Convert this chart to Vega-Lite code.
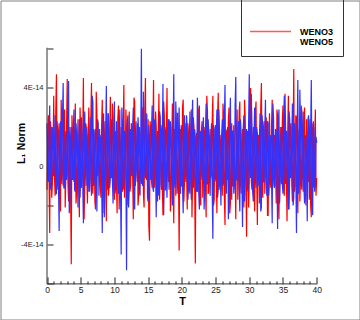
{
"$schema": "https://vega.github.io/schema/vega-lite/v6.json",
"width": 359, "height": 319, "padding": 0.5, "autosize": {"type": "none"},
"background": "white",
"config": {"view": {"stroke": "#808080", "strokeWidth": 1}},
"resolve": {"axis": {"x": "independent"}},
"layer": [
{
"data": {"values": [
{"t":0,"WENO3":-1.2e-14,"WENO5":2.2e-14},{"t":0.2,"WENO3":2.6e-14,"WENO5":-0.8e-14},{"t":0.4,"WENO3":-3.4e-14,"WENO5":3.1e-14},{"t":0.6,"WENO3":1.9e-14,"WENO5":-1.2e-14},{"t":0.8,"WENO3":-0.9e-14,"WENO5":1.9e-14},
{"t":1.0,"WENO3":3.6e-14,"WENO5":-0.5e-14},{"t":1.2,"WENO3":-1.5e-14,"WENO5":2.6e-14},{"t":1.4,"WENO3":4.7e-14,"WENO5":-1.4e-14},{"t":1.6,"WENO3":-0.6e-14,"WENO5":1.5e-14},{"t":1.8,"WENO3":2.2e-14,"WENO5":-3.3e-14},
{"t":2.0,"WENO3":-2.3e-14,"WENO5":2.3e-14},{"t":2.2,"WENO3":1.7e-14,"WENO5":-0.9e-14},{"t":2.4,"WENO3":-1.0e-14,"WENO5":4.25e-14},{"t":2.6,"WENO3":2.9e-14,"WENO5":-1.1e-14},{"t":2.8,"WENO3":-0.4e-14,"WENO5":1.8e-14},
{"t":3.0,"WENO3":4.45e-14,"WENO5":-0.4e-14},{"t":3.2,"WENO3":-1.8e-14,"WENO5":4.35e-14},{"t":3.4,"WENO3":2.0e-14,"WENO5":-1.6e-14},{"t":3.6,"WENO3":-5.0e-14,"WENO5":2.0e-14},{"t":3.8,"WENO3":1.5e-14,"WENO5":-0.7e-14},
{"t":4.0,"WENO3":-0.8e-14,"WENO5":2.9e-14},{"t":4.2,"WENO3":3.2e-14,"WENO5":-1.3e-14},{"t":4.4,"WENO3":-1.3e-14,"WENO5":1.6e-14},{"t":4.6,"WENO3":2.4e-14,"WENO5":-2.1e-14},{"t":4.8,"WENO3":-2.6e-14,"WENO5":2.4e-14},
{"t":5.0,"WENO3":1.8e-14,"WENO5":-0.6e-14},{"t":5.2,"WENO3":-0.5e-14,"WENO5":1.7e-14},{"t":5.4,"WENO3":4.5e-14,"WENO5":-2.9e-14},{"t":5.6,"WENO3":-1.1e-14,"WENO5":2.8e-14},{"t":5.8,"WENO3":2.1e-14,"WENO5":-1.0e-14},
{"t":6.0,"WENO3":-1.9e-14,"WENO5":1.4e-14},{"t":6.2,"WENO3":3.0e-14,"WENO5":-0.3e-14},{"t":6.4,"WENO3":-0.7e-14,"WENO5":2.5e-14},{"t":6.6,"WENO3":4.25e-14,"WENO5":-1.5e-14},{"t":6.8,"WENO3":-1.4e-14,"WENO5":3.3e-14},
{"t":7.0,"WENO3":1.6e-14,"WENO5":-0.8e-14},{"t":7.2,"WENO3":-2.2e-14,"WENO5":1.9e-14},{"t":7.4,"WENO3":2.7e-14,"WENO5":-2.3e-14},{"t":7.6,"WENO3":-0.3e-14,"WENO5":2.2e-14},{"t":7.8,"WENO3":1.9e-14,"WENO5":-0.5e-14},
{"t":8.0,"WENO3":-1.6e-14,"WENO5":1.6e-14},{"t":8.2,"WENO3":3.4e-14,"WENO5":-3.4e-14},{"t":8.4,"WENO3":-0.9e-14,"WENO5":2.7e-14},{"t":8.6,"WENO3":2.3e-14,"WENO5":-1.0e-14},{"t":8.8,"WENO3":-2.8e-14,"WENO5":4.1e-14},
{"t":9.0,"WENO3":1.4e-14,"WENO5":-1.2e-14},{"t":9.2,"WENO3":-1.2e-14,"WENO5":1.8e-14},{"t":9.4,"WENO3":3.55e-14,"WENO5":-0.6e-14},{"t":9.6,"WENO3":-0.6e-14,"WENO5":2.4e-14},{"t":9.8,"WENO3":2.5e-14,"WENO5":-1.9e-14},
{"t":10.0,"WENO3":-1.7e-14,"WENO5":3.3e-14},{"t":10.2,"WENO3":1.8e-14,"WENO5":-0.9e-14},{"t":10.4,"WENO3":-2.4e-14,"WENO5":1.5e-14},{"t":10.6,"WENO3":3.1e-14,"WENO5":-1.4e-14},{"t":10.8,"WENO3":-0.8e-14,"WENO5":2.9e-14},
{"t":11.0,"WENO3":2.0e-14,"WENO5":-4.5e-14},{"t":11.2,"WENO3":-1.3e-14,"WENO5":2.1e-14},{"t":11.4,"WENO3":4.15e-14,"WENO5":-0.7e-14},{"t":11.6,"WENO3":-0.5e-14,"WENO5":1.7e-14},{"t":11.8,"WENO3":1.6e-14,"WENO5":-5.3e-14},
{"t":12.0,"WENO3":-2.0e-14,"WENO5":2.6e-14},{"t":12.2,"WENO3":2.8e-14,"WENO5":-1.1e-14},{"t":12.4,"WENO3":-1.0e-14,"WENO5":1.9e-14},{"t":12.6,"WENO3":1.9e-14,"WENO5":-0.4e-14},{"t":12.8,"WENO3":-2.7e-14,"WENO5":3.0e-14},
{"t":13.0,"WENO3":3.3e-14,"WENO5":-2.2e-14},{"t":13.2,"WENO3":-0.4e-14,"WENO5":2.3e-14},{"t":13.4,"WENO3":2.2e-14,"WENO5":-0.8e-14},{"t":13.6,"WENO3":-1.5e-14,"WENO5":1.6e-14},{"t":13.8,"WENO3":1.7e-14,"WENO5":-1.5e-14},
{"t":14.0,"WENO3":-0.9e-14,"WENO5":6.0e-14},{"t":14.2,"WENO3":3.0e-14,"WENO5":-1.0e-14},{"t":14.4,"WENO3":-2.1e-14,"WENO5":2.0e-14},{"t":14.6,"WENO3":4.5e-14,"WENO5":-0.6e-14},{"t":14.8,"WENO3":-0.7e-14,"WENO5":2.7e-14},
{"t":15.0,"WENO3":2.4e-14,"WENO5":-1.8e-14},{"t":15.2,"WENO3":-3.8e-14,"WENO5":1.5e-14},{"t":15.4,"WENO3":1.5e-14,"WENO5":-0.5e-14},{"t":15.6,"WENO3":-1.1e-14,"WENO5":3.1e-14},{"t":15.8,"WENO3":4.4e-14,"WENO5":-1.3e-14},
{"t":16.0,"WENO3":-0.6e-14,"WENO5":2.2e-14},{"t":16.2,"WENO3":2.0e-14,"WENO5":-2.6e-14},{"t":16.4,"WENO3":-1.8e-14,"WENO5":1.8e-14},{"t":16.6,"WENO3":3.7e-14,"WENO5":-0.9e-14},{"t":16.8,"WENO3":-0.3e-14,"WENO5":2.5e-14},
{"t":17.0,"WENO3":1.8e-14,"WENO5":-1.2e-14},{"t":17.2,"WENO3":-2.5e-14,"WENO5":4.2e-14},{"t":17.4,"WENO3":2.6e-14,"WENO5":-0.7e-14},{"t":17.6,"WENO3":-1.2e-14,"WENO5":1.7e-14},{"t":17.8,"WENO3":4.0e-14,"WENO5":-1.6e-14},
{"t":18.0,"WENO3":-0.8e-14,"WENO5":2.4e-14},{"t":18.2,"WENO3":2.1e-14,"WENO5":-0.4e-14},{"t":18.4,"WENO3":-1.6e-14,"WENO5":1.9e-14},{"t":18.6,"WENO3":3.2e-14,"WENO5":-2.0e-14},{"t":18.8,"WENO3":-2.9e-14,"WENO5":4.7e-14},
{"t":19.0,"WENO3":1.4e-14,"WENO5":-1.1e-14},{"t":19.2,"WENO3":-0.5e-14,"WENO5":2.1e-14},{"t":19.4,"WENO3":2.7e-14,"WENO5":-0.6e-14},{"t":19.6,"WENO3":-4.3e-14,"WENO5":3.0e-14},{"t":19.8,"WENO3":1.9e-14,"WENO5":-1.4e-14},
{"t":20.0,"WENO3":-1.0e-14,"WENO5":1.6e-14},{"t":20.2,"WENO3":3.4e-14,"WENO5":-2.4e-14},{"t":20.4,"WENO3":-0.7e-14,"WENO5":2.6e-14},{"t":20.6,"WENO3":2.2e-14,"WENO5":-0.8e-14},{"t":20.8,"WENO3":-2.2e-14,"WENO5":1.9e-14},
{"t":21.0,"WENO3":1.6e-14,"WENO5":-1.0e-14},{"t":21.2,"WENO3":-1.4e-14,"WENO5":2.8e-14},{"t":21.4,"WENO3":2.9e-14,"WENO5":-1.7e-14},{"t":21.6,"WENO3":-0.6e-14,"WENO5":3.4e-14},{"t":21.8,"WENO3":2.0e-14,"WENO5":-0.5e-14},
{"t":22.0,"WENO3":-4.96e-14,"WENO5":1.5e-14},{"t":22.2,"WENO3":1.7e-14,"WENO5":-1.3e-14},{"t":22.4,"WENO3":-1.1e-14,"WENO5":2.3e-14},{"t":22.6,"WENO3":3.1e-14,"WENO5":-2.2e-14},{"t":22.8,"WENO3":-2.0e-14,"WENO5":1.8e-14},
{"t":23.0,"WENO3":2.3e-14,"WENO5":-0.7e-14},{"t":23.2,"WENO3":-0.8e-14,"WENO5":2.5e-14},{"t":23.4,"WENO3":1.5e-14,"WENO5":-1.1e-14},{"t":23.6,"WENO3":-2.6e-14,"WENO5":3.2e-14},{"t":23.8,"WENO3":2.8e-14,"WENO5":-0.9e-14},
{"t":24.0,"WENO3":-1.3e-14,"WENO5":1.7e-14},{"t":24.2,"WENO3":1.9e-14,"WENO5":-1.5e-14},{"t":24.4,"WENO3":-0.4e-14,"WENO5":2.2e-14},{"t":24.6,"WENO3":3.6e-14,"WENO5":-3.7e-14},{"t":24.8,"WENO3":-1.7e-14,"WENO5":1.9e-14},
{"t":25.0,"WENO3":2.1e-14,"WENO5":-0.6e-14},{"t":25.2,"WENO3":-2.4e-14,"WENO5":2.9e-14},{"t":25.4,"WENO3":3.75e-14,"WENO5":-1.2e-14},{"t":25.6,"WENO3":-0.9e-14,"WENO5":1.6e-14},{"t":25.8,"WENO3":1.6e-14,"WENO5":-2.0e-14},
{"t":26.0,"WENO3":-1.5e-14,"WENO5":2.4e-14},{"t":26.2,"WENO3":2.5e-14,"WENO5":-0.8e-14},{"t":26.4,"WENO3":-3.0e-14,"WENO5":4.15e-14},{"t":26.6,"WENO3":1.8e-14,"WENO5":-1.4e-14},{"t":26.8,"WENO3":-0.6e-14,"WENO5":2.0e-14},
{"t":27.0,"WENO3":3.0e-14,"WENO5":-0.5e-14},{"t":27.2,"WENO3":-1.9e-14,"WENO5":3.5e-14},{"t":27.4,"WENO3":2.2e-14,"WENO5":-1.7e-14},{"t":27.6,"WENO3":-1.0e-14,"WENO5":1.8e-14},{"t":27.8,"WENO3":1.4e-14,"WENO5":-1.0e-14},
{"t":28.0,"WENO3":-2.7e-14,"WENO5":4.56e-14},{"t":28.2,"WENO3":2.9e-14,"WENO5":-0.7e-14},{"t":28.4,"WENO3":-0.5e-14,"WENO5":2.3e-14},{"t":28.6,"WENO3":3.3e-14,"WENO5":-2.3e-14},{"t":28.8,"WENO3":-1.4e-14,"WENO5":1.6e-14},
{"t":29.0,"WENO3":1.9e-14,"WENO5":-3.1e-14},{"t":29.2,"WENO3":-2.1e-14,"WENO5":2.6e-14},{"t":29.4,"WENO3":2.4e-14,"WENO5":-0.9e-14},{"t":29.6,"WENO3":-3.6e-14,"WENO5":1.9e-14},{"t":29.8,"WENO3":1.7e-14,"WENO5":-1.3e-14},
{"t":30.0,"WENO3":-0.8e-14,"WENO5":4.7e-14},{"t":30.2,"WENO3":4.0e-14,"WENO5":-0.6e-14},{"t":30.4,"WENO3":-1.2e-14,"WENO5":2.1e-14},{"t":30.6,"WENO3":2.0e-14,"WENO5":-1.8e-14},{"t":30.8,"WENO3":-2.3e-14,"WENO5":3.0e-14},
{"t":31.0,"WENO3":3.3e-14,"WENO5":-1.1e-14},{"t":31.2,"WENO3":-3.0e-14,"WENO5":1.7e-14},{"t":31.4,"WENO3":1.6e-14,"WENO5":-0.4e-14},{"t":31.6,"WENO3":-0.7e-14,"WENO5":2.7e-14},{"t":31.8,"WENO3":4.25e-14,"WENO5":-2.1e-14},
{"t":32.0,"WENO3":-1.6e-14,"WENO5":1.9e-14},{"t":32.2,"WENO3":2.3e-14,"WENO5":-0.8e-14},{"t":32.4,"WENO3":-0.4e-14,"WENO5":3.4e-14},{"t":32.6,"WENO3":1.8e-14,"WENO5":-1.5e-14},{"t":32.8,"WENO3":-2.5e-14,"WENO5":2.2e-14},
{"t":33.0,"WENO3":2.7e-14,"WENO5":-0.7e-14},{"t":33.2,"WENO3":-1.1e-14,"WENO5":1.6e-14},{"t":33.4,"WENO3":3.4e-14,"WENO5":-2.9e-14},{"t":33.6,"WENO3":-0.6e-14,"WENO5":2.5e-14},{"t":33.8,"WENO3":1.5e-14,"WENO5":-1.0e-14},
{"t":34.0,"WENO3":-1.9e-14,"WENO5":1.8e-14},{"t":34.2,"WENO3":2.6e-14,"WENO5":-3.2e-14},{"t":34.4,"WENO3":-2.7e-14,"WENO5":2.9e-14},{"t":34.6,"WENO3":2.0e-14,"WENO5":-0.6e-14},{"t":34.8,"WENO3":-0.9e-14,"WENO5":2.0e-14},
{"t":35.0,"WENO3":3.1e-14,"WENO5":-1.4e-14},{"t":35.2,"WENO3":-1.5e-14,"WENO5":3.6e-14},{"t":35.4,"WENO3":1.7e-14,"WENO5":-0.9e-14},{"t":35.6,"WENO3":-2.8e-14,"WENO5":1.7e-14},{"t":35.8,"WENO3":3.6e-14,"WENO5":-2.2e-14},
{"t":36.0,"WENO3":-0.5e-14,"WENO5":2.4e-14},{"t":36.2,"WENO3":2.2e-14,"WENO5":-0.5e-14},{"t":36.4,"WENO3":-1.8e-14,"WENO5":3.2e-14},{"t":36.6,"WENO3":4.96e-14,"WENO5":-1.6e-14},{"t":36.8,"WENO3":-1.0e-14,"WENO5":1.9e-14},
{"t":37.0,"WENO3":2.5e-14,"WENO5":-3.4e-14},{"t":37.2,"WENO3":-2.4e-14,"WENO5":4.4e-14},{"t":37.4,"WENO3":1.9e-14,"WENO5":-0.8e-14},{"t":37.6,"WENO3":-0.7e-14,"WENO5":2.1e-14},{"t":37.8,"WENO3":2.8e-14,"WENO5":-1.2e-14},
{"t":38.0,"WENO3":-1.3e-14,"WENO5":2.8e-14},{"t":38.2,"WENO3":3.0e-14,"WENO5":-1.9e-14},{"t":38.4,"WENO3":-2.0e-14,"WENO5":1.6e-14},{"t":38.6,"WENO3":1.6e-14,"WENO5":-2.8e-14},{"t":38.8,"WENO3":-0.8e-14,"WENO5":2.6e-14},
{"t":39.0,"WENO3":2.4e-14,"WENO5":-0.7e-14},{"t":39.2,"WENO3":-2.6e-14,"WENO5":4.4e-14},{"t":39.4,"WENO3":1.8e-14,"WENO5":-2.5e-14},{"t":39.6,"WENO3":-1.1e-14,"WENO5":1.8e-14},{"t":39.8,"WENO3":2.9e-14,"WENO5":-1.0e-14},
{"t":40.0,"WENO3":-0.6e-14,"WENO5":1.2e-14},
{"t":0.1,"WENO3":1.5e-14,"WENO5":-0.6e-14},{"t":0.3,"WENO3":-0.7e-14,"WENO5":1.4e-14},{"t":0.5,"WENO3":2.3e-14,"WENO5":-1.0e-14},{"t":0.7,"WENO3":-1.6e-14,"WENO5":2.0e-14},{"t":0.9,"WENO3":1.1e-14,"WENO5":-0.3e-14},
{"t":1.1,"WENO3":-0.4e-14,"WENO5":1.1e-14},{"t":1.3,"WENO3":2.8e-14,"WENO5":-1.4e-14},{"t":1.5,"WENO3":-1.2e-14,"WENO5":2.3e-14},{"t":1.7,"WENO3":1.7e-14,"WENO5":-0.8e-14},{"t":1.9,"WENO3":-0.9e-14,"WENO5":1.6e-14},
{"t":2.1,"WENO3":3.4e-14,"WENO5":-0.2e-14},{"t":2.3,"WENO3":-0.3e-14,"WENO5":2.6e-14},{"t":2.5,"WENO3":1.4e-14,"WENO5":-1.1e-14},{"t":2.7,"WENO3":-2.1e-14,"WENO5":1.3e-14},{"t":2.9,"WENO3":2.0e-14,"WENO5":-0.7e-14},
{"t":3.1,"WENO3":-0.8e-14,"WENO5":2.1e-14},{"t":3.3,"WENO3":1.2e-14,"WENO5":-2.4e-14},{"t":3.5,"WENO3":-1.4e-14,"WENO5":1.5e-14},{"t":3.7,"WENO3":2.6e-14,"WENO5":-0.4e-14},{"t":3.9,"WENO3":-0.5e-14,"WENO5":1.9e-14},
{"t":4.1,"WENO3":1.8e-14,"WENO5":-1.2e-14},{"t":4.3,"WENO3":-1.9e-14,"WENO5":2.2e-14},{"t":4.5,"WENO3":1.0e-14,"WENO5":-0.5e-14},{"t":4.7,"WENO3":-0.6e-14,"WENO5":1.2e-14},{"t":4.9,"WENO3":3.0e-14,"WENO5":-1.6e-14},
{"t":5.1,"WENO3":-1.1e-14,"WENO5":2.5e-14},{"t":5.3,"WENO3":1.6e-14,"WENO5":-0.9e-14},{"t":5.5,"WENO3":-2.7e-14,"WENO5":1.7e-14},{"t":5.7,"WENO3":2.2e-14,"WENO5":-0.3e-14},{"t":5.9,"WENO3":-0.4e-14,"WENO5":2.0e-14},
{"t":6.1,"WENO3":1.3e-14,"WENO5":-1.3e-14},{"t":6.3,"WENO3":-1.3e-14,"WENO5":1.4e-14},{"t":6.5,"WENO3":2.5e-14,"WENO5":-0.6e-14},{"t":6.7,"WENO3":-0.7e-14,"WENO5":3.6e-14},{"t":6.9,"WENO3":1.9e-14,"WENO5":-1.0e-14},
{"t":7.1,"WENO3":-1.8e-14,"WENO5":1.8e-14},{"t":7.3,"WENO3":3.8e-14,"WENO5":-0.2e-14},{"t":7.5,"WENO3":-0.5e-14,"WENO5":2.4e-14},{"t":7.7,"WENO3":1.5e-14,"WENO5":-1.5e-14},{"t":7.9,"WENO3":-1.0e-14,"WENO5":1.3e-14},
{"t":8.1,"WENO3":2.1e-14,"WENO5":-0.8e-14},{"t":8.3,"WENO3":-2.4e-14,"WENO5":2.1e-14},{"t":8.5,"WENO3":1.2e-14,"WENO5":-2.6e-14},{"t":8.7,"WENO3":-0.6e-14,"WENO5":1.6e-14},{"t":8.9,"WENO3":2.7e-14,"WENO5":-0.4e-14},
{"t":9.1,"WENO3":-1.5e-14,"WENO5":2.7e-14},{"t":9.3,"WENO3":1.7e-14,"WENO5":-1.1e-14},{"t":9.5,"WENO3":-0.3e-14,"WENO5":1.2e-14},{"t":9.7,"WENO3":3.2e-14,"WENO5":-0.7e-14},{"t":9.9,"WENO3":-1.2e-14,"WENO5":1.9e-14},
{"t":10.1,"WENO3":1.4e-14,"WENO5":-1.4e-14},{"t":10.3,"WENO3":-0.8e-14,"WENO5":2.3e-14},{"t":10.5,"WENO3":2.4e-14,"WENO5":-0.3e-14},{"t":10.7,"WENO3":-2.2e-14,"WENO5":1.5e-14},{"t":10.9,"WENO3":1.1e-14,"WENO5":-0.9e-14},
{"t":11.1,"WENO3":-0.5e-14,"WENO5":3.0e-14},{"t":11.3,"WENO3":1.9e-14,"WENO5":-1.2e-14},{"t":11.5,"WENO3":-1.6e-14,"WENO5":1.8e-14},{"t":11.7,"WENO3":2.9e-14,"WENO5":-0.6e-14},{"t":11.9,"WENO3":-0.9e-14,"WENO5":2.2e-14},
{"t":12.1,"WENO3":1.6e-14,"WENO5":-2.1e-14},{"t":12.3,"WENO3":-1.3e-14,"WENO5":1.4e-14},{"t":12.5,"WENO3":2.2e-14,"WENO5":-0.5e-14},{"t":12.7,"WENO3":-0.4e-14,"WENO5":2.0e-14},{"t":12.9,"WENO3":3.5e-14,"WENO5":-1.0e-14},
{"t":13.1,"WENO3":-1.0e-14,"WENO5":1.7e-14},{"t":13.3,"WENO3":1.3e-14,"WENO5":-0.2e-14},{"t":13.5,"WENO3":-2.0e-14,"WENO5":2.5e-14},{"t":13.7,"WENO3":2.0e-14,"WENO5":-1.3e-14},{"t":13.9,"WENO3":-0.7e-14,"WENO5":1.3e-14},
{"t":14.1,"WENO3":1.8e-14,"WENO5":-0.8e-14},{"t":14.3,"WENO3":-1.4e-14,"WENO5":3.8e-14},{"t":14.5,"WENO3":2.6e-14,"WENO5":-0.4e-14},{"t":14.7,"WENO3":-0.6e-14,"WENO5":1.6e-14},{"t":14.9,"WENO3":1.2e-14,"WENO5":-1.6e-14},
{"t":15.1,"WENO3":-3.0e-14,"WENO5":2.1e-14},{"t":15.3,"WENO3":2.3e-14,"WENO5":-0.7e-14},{"t":15.5,"WENO3":-0.8e-14,"WENO5":1.9e-14},{"t":15.7,"WENO3":1.5e-14,"WENO5":-1.1e-14},{"t":15.9,"WENO3":-1.1e-14,"WENO5":2.4e-14},
{"t":16.1,"WENO3":2.8e-14,"WENO5":-0.3e-14},{"t":16.3,"WENO3":-0.5e-14,"WENO5":1.2e-14},{"t":16.5,"WENO3":1.4e-14,"WENO5":-1.5e-14},{"t":16.7,"WENO3":-1.7e-14,"WENO5":2.8e-14},{"t":16.9,"WENO3":2.1e-14,"WENO5":-0.9e-14},
{"t":17.1,"WENO3":-0.9e-14,"WENO5":1.5e-14},{"t":17.3,"WENO3":3.3e-14,"WENO5":-2.5e-14},{"t":17.5,"WENO3":-1.2e-14,"WENO5":2.0e-14},{"t":17.7,"WENO3":1.6e-14,"WENO5":-0.6e-14},{"t":17.9,"WENO3":-0.4e-14,"WENO5":1.8e-14},
{"t":18.1,"WENO3":2.4e-14,"WENO5":-1.2e-14},{"t":18.3,"WENO3":-2.3e-14,"WENO5":2.3e-14},{"t":18.5,"WENO3":1.1e-14,"WENO5":-0.4e-14},{"t":18.7,"WENO3":-0.7e-14,"WENO5":1.4e-14},{"t":18.9,"WENO3":1.9e-14,"WENO5":-0.8e-14},
{"t":19.1,"WENO3":-1.5e-14,"WENO5":3.3e-14},{"t":19.3,"WENO3":2.7e-14,"WENO5":-1.4e-14},{"t":19.5,"WENO3":-0.6e-14,"WENO5":1.7e-14},{"t":19.7,"WENO3":1.3e-14,"WENO5":-0.5e-14},{"t":19.9,"WENO3":-1.0e-14,"WENO5":2.1e-14},
{"t":20.1,"WENO3":3.0e-14,"WENO5":-1.0e-14},{"t":20.3,"WENO3":-1.8e-14,"WENO5":1.6e-14},{"t":20.5,"WENO3":1.5e-14,"WENO5":-0.2e-14},{"t":20.7,"WENO3":-0.3e-14,"WENO5":2.6e-14},{"t":20.9,"WENO3":2.2e-14,"WENO5":-1.7e-14},
{"t":21.1,"WENO3":-1.1e-14,"WENO5":1.3e-14},{"t":21.3,"WENO3":1.7e-14,"WENO5":-0.6e-14},{"t":21.5,"WENO3":-2.6e-14,"WENO5":2.2e-14},{"t":21.7,"WENO3":2.5e-14,"WENO5":-1.1e-14},{"t":21.9,"WENO3":-0.8e-14,"WENO5":1.9e-14},
{"t":22.1,"WENO3":1.2e-14,"WENO5":-0.7e-14},{"t":22.3,"WENO3":-1.3e-14,"WENO5":3.5e-14},{"t":22.5,"WENO3":2.9e-14,"WENO5":-1.3e-14},{"t":22.7,"WENO3":-0.5e-14,"WENO5":1.5e-14},{"t":22.9,"WENO3":1.8e-14,"WENO5":-0.3e-14},
{"t":23.1,"WENO3":-1.6e-14,"WENO5":2.0e-14},{"t":23.3,"WENO3":2.0e-14,"WENO5":-2.2e-14},{"t":23.5,"WENO3":-0.9e-14,"WENO5":1.8e-14},{"t":23.7,"WENO3":3.6e-14,"WENO5":-0.9e-14},{"t":23.9,"WENO3":-1.4e-14,"WENO5":2.4e-14},
{"t":24.1,"WENO3":1.4e-14,"WENO5":-0.5e-14},{"t":24.3,"WENO3":-0.6e-14,"WENO5":1.4e-14},{"t":24.5,"WENO3":2.3e-14,"WENO5":-1.2e-14},{"t":24.7,"WENO3":-2.0e-14,"WENO5":2.1e-14},{"t":24.9,"WENO3":1.6e-14,"WENO5":-0.8e-14},
{"t":25.1,"WENO3":-0.4e-14,"WENO5":1.7e-14},{"t":25.3,"WENO3":2.6e-14,"WENO5":-1.6e-14},{"t":25.5,"WENO3":-1.2e-14,"WENO5":2.9e-14},{"t":25.7,"WENO3":1.1e-14,"WENO5":-0.4e-14},{"t":25.9,"WENO3":-0.8e-14,"WENO5":1.6e-14},
{"t":26.1,"WENO3":3.2e-14,"WENO5":-1.0e-14},{"t":26.3,"WENO3":-1.5e-14,"WENO5":2.3e-14},{"t":26.5,"WENO3":1.9e-14,"WENO5":-0.6e-14},{"t":26.7,"WENO3":-0.7e-14,"WENO5":1.2e-14},{"t":26.9,"WENO3":2.4e-14,"WENO5":-2.7e-14},
{"t":27.1,"WENO3":-2.4e-14,"WENO5":2.0e-14},{"t":27.3,"WENO3":1.3e-14,"WENO5":-0.3e-14},{"t":27.5,"WENO3":-1.0e-14,"WENO5":1.8e-14},{"t":27.7,"WENO3":2.1e-14,"WENO5":-1.4e-14},{"t":27.9,"WENO3":-0.5e-14,"WENO5":3.1e-14},
{"t":28.1,"WENO3":1.7e-14,"WENO5":-0.7e-14},{"t":28.3,"WENO3":-1.7e-14,"WENO5":1.5e-14},{"t":28.5,"WENO3":2.8e-14,"WENO5":-1.1e-14},{"t":28.7,"WENO3":-0.9e-14,"WENO5":2.4e-14},{"t":28.9,"WENO3":1.2e-14,"WENO5":-0.5e-14},
{"t":29.1,"WENO3":-1.3e-14,"WENO5":1.9e-14},{"t":29.3,"WENO3":3.4e-14,"WENO5":-1.8e-14},{"t":29.5,"WENO3":-0.6e-14,"WENO5":1.3e-14},{"t":29.7,"WENO3":1.8e-14,"WENO5":-0.9e-14},{"t":29.9,"WENO3":-2.1e-14,"WENO5":2.2e-14},
{"t":30.1,"WENO3":2.2e-14,"WENO5":-0.2e-14},{"t":30.3,"WENO3":-0.8e-14,"WENO5":3.7e-14},{"t":30.5,"WENO3":1.5e-14,"WENO5":-1.3e-14},{"t":30.7,"WENO3":-1.1e-14,"WENO5":1.6e-14},{"t":30.9,"WENO3":2.7e-14,"WENO5":-0.6e-14},
{"t":31.1,"WENO3":-0.4e-14,"WENO5":2.0e-14},{"t":31.3,"WENO3":1.4e-14,"WENO5":-1.0e-14},{"t":31.5,"WENO3":-1.9e-14,"WENO5":1.4e-14},{"t":31.7,"WENO3":3.0e-14,"WENO5":-2.3e-14},{"t":31.9,"WENO3":-0.7e-14,"WENO5":2.6e-14},
{"t":32.1,"WENO3":1.9e-14,"WENO5":-0.8e-14},{"t":32.3,"WENO3":-1.4e-14,"WENO5":1.7e-14},{"t":32.5,"WENO3":2.5e-14,"WENO5":-0.4e-14},{"t":32.7,"WENO3":-2.5e-14,"WENO5":2.3e-14},{"t":32.9,"WENO3":1.3e-14,"WENO5":-1.5e-14},
{"t":33.1,"WENO3":-0.6e-14,"WENO5":1.2e-14},{"t":33.3,"WENO3":2.1e-14,"WENO5":-0.7e-14},{"t":33.5,"WENO3":-1.0e-14,"WENO5":3.2e-14},{"t":33.7,"WENO3":1.6e-14,"WENO5":-1.1e-14},{"t":33.9,"WENO3":-0.3e-14,"WENO5":1.9e-14},
{"t":34.1,"WENO3":2.9e-14,"WENO5":-0.3e-14},{"t":34.3,"WENO3":-1.6e-14,"WENO5":2.1e-14},{"t":34.5,"WENO3":1.1e-14,"WENO5":-1.9e-14},{"t":34.7,"WENO3":-0.8e-14,"WENO5":1.5e-14},{"t":34.9,"WENO3":2.3e-14,"WENO5":-0.9e-14},
{"t":35.1,"WENO3":-1.2e-14,"WENO5":2.5e-14},{"t":35.3,"WENO3":3.7e-14,"WENO5":-0.5e-14},{"t":35.5,"WENO3":-0.5e-14,"WENO5":1.8e-14},{"t":35.7,"WENO3":1.7e-14,"WENO5":-1.2e-14},{"t":35.9,"WENO3":-2.2e-14,"WENO5":2.8e-14},
{"t":36.1,"WENO3":2.0e-14,"WENO5":-0.6e-14},{"t":36.3,"WENO3":-0.9e-14,"WENO5":1.3e-14},{"t":36.5,"WENO3":1.4e-14,"WENO5":-2.0e-14},{"t":36.7,"WENO3":-1.3e-14,"WENO5":2.2e-14},{"t":36.9,"WENO3":2.6e-14,"WENO5":-0.4e-14},
{"t":37.1,"WENO3":-0.7e-14,"WENO5":1.6e-14},{"t":37.3,"WENO3":1.2e-14,"WENO5":-1.4e-14},{"t":37.5,"WENO3":-1.8e-14,"WENO5":3.9e-14},{"t":37.7,"WENO3":3.1e-14,"WENO5":-0.8e-14},{"t":37.9,"WENO3":-0.4e-14,"WENO5":2.0e-14},
{"t":38.1,"WENO3":1.8e-14,"WENO5":-1.0e-14},{"t":38.3,"WENO3":-1.1e-14,"WENO5":1.4e-14},{"t":38.5,"WENO3":2.4e-14,"WENO5":-0.3e-14},{"t":38.7,"WENO3":-0.6e-14,"WENO5":2.4e-14},{"t":38.9,"WENO3":1.5e-14,"WENO5":-1.7e-14},
{"t":39.1,"WENO3":-2.0e-14,"WENO5":1.7e-14},{"t":39.3,"WENO3":2.2e-14,"WENO5":-0.6e-14},{"t":39.5,"WENO3":-0.9e-14,"WENO5":2.3e-14},{"t":39.7,"WENO3":1.3e-14,"WENO5":-1.3e-14},{"t":39.9,"WENO3":-1.5e-14,"WENO5":1.5e-14}
]},
"transform": [{"fold": ["WENO3", "WENO5"], "as": ["series", "L1"]}],
"mark": {"type": "line", "strokeWidth": 1.2},
"encoding": {
"x": {"field": "t", "type": "quantitative",
 "scale": {"domain": [-6.897, 46.348], "nice": false, "zero": false},
 "axis": {"orient": "bottom", "title": "T", "values": [0,5,10,15,20,25,30,35,40],
  "domain": false, "grid": false, "offset": -35.6,
  "tickSize": -7, "tickColor": "#222", "tickWidth": 1,
  "labelPadding": 9, "labelFlush": false, "labelOverlap": false,
  "labelFont": "Liberation Sans", "labelFontSize": 8.5, "labelColor": "#222",
  "titleFont": "Liberation Sans", "titleFontSize": 11, "titleFontWeight": "bold", "titleColor": "#000",
  "titleX": 181.5, "titleY": 17.6, "titleBaseline": "middle", "titleAlign": "center"}},
"y": {"field": "L1", "type": "quantitative",
 "scale": {"domain": [-7.816e-14, 8.459e-14], "nice": false, "zero": false},
 "axis": {"title": "L₁ Norm", "values": [-6e-14, -4e-14, -2e-14, 0, 2e-14, 4e-14, 6e-14],
  "domain": false, "grid": false, "offset": -46.5,
  "tickSize": -6, "tickColor": "#222", "tickWidth": 1,
  "labelExpr": "datum.value == 4e-14 ? '4E-14' : datum.value == -4e-14 ? '-4E-14' : datum.value == 0 ? '0' : ''",
  "labelPadding": 10, "labelFlush": false, "labelOverlap": false,
  "labelFont": "Liberation Sans", "labelFontSize": 7.5, "labelColor": "#222",
  "titleFont": "Liberation Sans", "titleFontSize": 10.5, "titleFontWeight": "bold", "titleColor": "#000",
  "titleX": -26, "titleY": 142.5, "titleAngle": 270, "titleBaseline": "middle", "titleAlign": "center"}},
"color": {"field": "series", "type": "nominal",
 "scale": {"domain": ["WENO3", "WENO5"], "range": ["#ff0000", "#3232ff"]},
 "legend": {"orient": "none", "direction": "vertical", "legendX": 240.5, "legendY": -29.5,
  "title": "\u2003\u2003\u2003\u2003", "titleFontSize": 40, "titlePadding": 6.5,
  "padding": 9, "strokeColor": "#333", "fillColor": null,
  "symbolType": "stroke", "symbolSize": 1849, "symbolStrokeWidth": 1.5, "symbolOffset": -3,
  "clipHeight": 10, "rowPadding": 0, "labelOffset": 8,
  "labelFont": "Liberation Sans", "labelFontSize": 9, "labelFontWeight": "bold", "labelColor": "#000",
  "encode": {"symbols": {"update": {"strokeWidth": {"value": 1.5}, "opacity": {"signal": "datum.value === 'WENO5' ? 0 : 0.65"}}}}}}
}
},
{
"data": {"values": [{}]},
"mark": {"type": "rule", "color": "#333", "strokeWidth": 1},
"encoding": {"x": {"datum": 0, "type": "quantitative", "axis": null}, "y": {"datum": -6e-14, "type": "quantitative"}, "y2": {"datum": 6.05e-14}}
},
{
"data": {"values": [{}]},
"mark": {"type": "rule", "color": "#333", "strokeWidth": 1},
"encoding": {"x": {"datum": 0, "type": "quantitative",
  "axis": {"orient": "bottom", "values": [1,2,3,4,6,7,8,9,11,12,13,14,16,17,18,19,21,22,23,24,26,27,28,29,31,32,33,34,36,37,38,39],
   "domain": false, "grid": false, "labels": false, "title": null, "offset": -35.6,
   "tickSize": -3, "tickColor": "#222", "tickWidth": 1}},
 "x2": {"datum": 40}, "y": {"datum": -6e-14, "type": "quantitative"}}
}
]
}
